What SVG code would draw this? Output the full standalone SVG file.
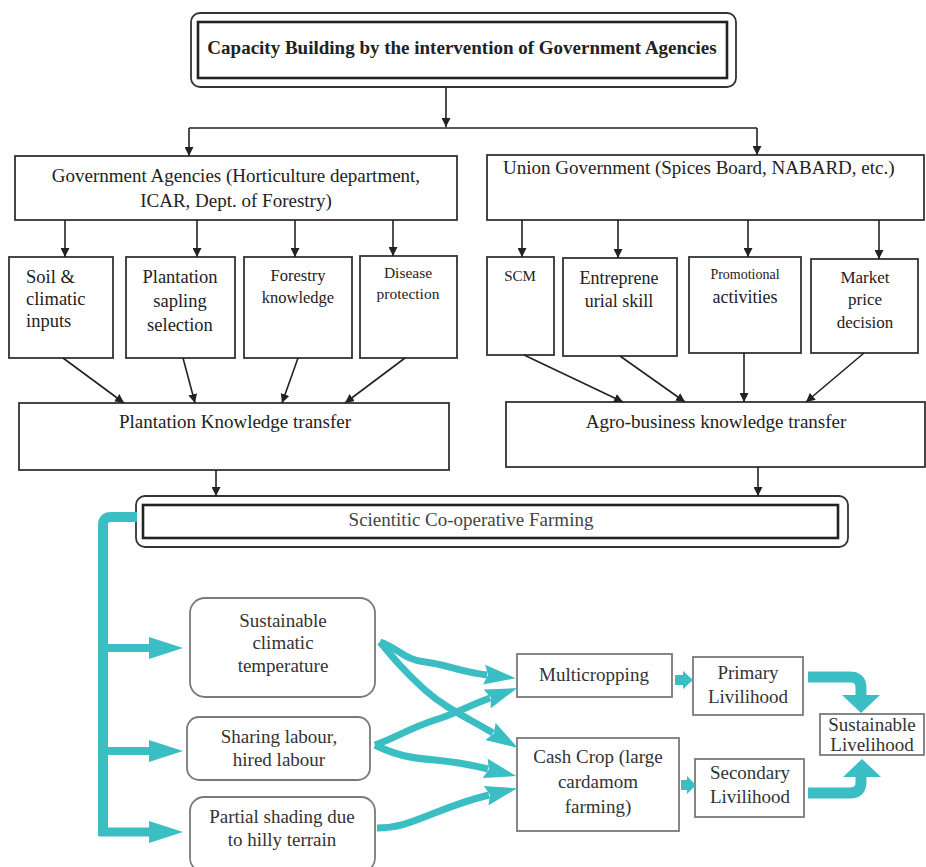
<svg xmlns="http://www.w3.org/2000/svg" width="926" height="867" viewBox="0 0 926 867">
<style>
  text{font-family:"Liberation Serif","Times New Roman",serif;fill:#222}
  .c{text-anchor:middle}
  .box{fill:#fff;stroke:#333;stroke-width:1.8}
  .gbox{fill:#fff;stroke:#7a7a7a;stroke-width:1.8}
  .ln{fill:none;stroke:#222;stroke-width:1.6}
  .teal{fill:none;stroke:#3bbec3;stroke-linecap:butt;stroke-linejoin:round}
  .tf{fill:#3bbec3}
  .bt{fill:#333;font-size:19px}
</style>
<defs>
  <marker id="ah" viewBox="0 0 10 10" refX="10" refY="5" markerWidth="9" markerHeight="9" markerUnits="userSpaceOnUse" orient="auto">
    <path d="M0,0 L10,5 L0,10 z" fill="#222"/>
  </marker>
  <marker id="th" viewBox="0 0 32 20" refX="3" refY="10" markerWidth="32" markerHeight="20" markerUnits="userSpaceOnUse" orient="auto">
    <path d="M0,0 L32,10 L0,20 L4,10 z" fill="#3bbec3"/>
  </marker>
  <marker id="tb" viewBox="0 0 34 22" refX="1" refY="11" markerWidth="34" markerHeight="22" markerUnits="userSpaceOnUse" orient="auto">
    <path d="M0,0 L34,11 L0,22 z" fill="#3bbec3"/>
  </marker>
</defs>

<g id="title">
  <rect x="191" y="13" width="545" height="74" rx="9" class="box"/>
  <rect x="198" y="22" width="529" height="56" fill="none" stroke="#222" stroke-width="2.6"/>
  <text x="462" y="54" class="c" font-size="19" font-weight="bold">Capacity Building by the intervention of Government Agencies</text>
</g>

<g id="gov-agencies">
  <rect x="15" y="156" width="442" height="64" class="box"/>
  <text x="236" y="182" class="c" font-size="19">Government Agencies (Horticulture department,</text>
  <text x="236" y="207" class="c" font-size="19">ICAR, Dept. of Forestry)</text>
</g>
<g id="union-gov">
  <rect x="487" y="155" width="437" height="65" class="box"/>
  <text x="503" y="174" font-size="19">Union Government (Spices Board, NABARD, etc.)</text>
</g>

<g id="soil">
  <rect x="9" y="257" width="104" height="101" class="box"/>
  <text x="26" y="283" font-size="18.5">Soil &amp;</text>
  <text x="26" y="305" font-size="18.5">climatic</text>
  <text x="26" y="327" font-size="18.5">inputs</text>
</g>
<g id="plantation">
  <rect x="126" y="257" width="109" height="101" class="box"/>
  <text x="180" y="283" class="c" font-size="18.5">Plantation</text>
  <text x="180" y="307" class="c" font-size="18.5">sapling</text>
  <text x="180" y="331" class="c" font-size="18.5">selection</text>
</g>
<g id="forestry">
  <rect x="244" y="257" width="108" height="101" class="box"/>
  <text x="298" y="281" class="c" font-size="16.5">Forestry</text>
  <text x="298" y="303" class="c" font-size="16.5">knowledge</text>
</g>
<g id="disease">
  <rect x="360" y="256" width="97" height="102" class="box"/>
  <text x="408" y="278" class="c" font-size="15.5">Disease</text>
  <text x="408" y="299" class="c" font-size="15.5">protection</text>
</g>

<g id="scm">
  <rect x="487" y="257" width="67" height="98" class="box"/>
  <text x="520" y="281" class="c" font-size="15">SCM</text>
</g>
<g id="entrepreneurial">
  <rect x="563" y="258" width="114" height="98" class="box"/>
  <text x="619" y="284" class="c" font-size="18">Entreprene</text>
  <text x="619" y="307" class="c" font-size="18">urial skill</text>
</g>
<g id="promotional">
  <rect x="689" y="257" width="112" height="96" class="box"/>
  <text x="745" y="279" class="c" font-size="14">Promotional</text>
  <text x="745" y="303" class="c" font-size="18">activities</text>
</g>
<g id="market">
  <rect x="811" y="259" width="107" height="94" class="box"/>
  <text x="865" y="283" class="c" font-size="17">Market</text>
  <text x="865" y="305" class="c" font-size="17">price</text>
  <text x="865" y="328" class="c" font-size="17">decision</text>
</g>

<g id="plantation-kt">
  <rect x="19" y="403" width="430" height="67" class="box"/>
  <text x="235" y="428" class="c" font-size="19">Plantation Knowledge transfer</text>
</g>
<g id="agro-kt">
  <rect x="506" y="402" width="419" height="65" class="box"/>
  <text x="716" y="428" class="c" font-size="19">Agro-business knowledge transfer</text>
</g>

<g id="scientific">
  <rect x="136" y="496" width="712" height="51" rx="9" class="box"/>
  <rect x="143" y="505" width="695" height="33" fill="none" stroke="#222" stroke-width="2.6"/>
  <text x="471" y="526" class="c" font-size="19" style="fill:#444">Scientitic Co-operative Farming</text>
</g>

<g id="climatic-temp">
  <rect x="190" y="598" width="185" height="99" rx="15" class="gbox"/>
  <text x="283" y="627" class="c bt">Sustainable</text>
  <text x="283" y="649" class="c bt">climatic</text>
  <text x="283" y="672" class="c bt">temperature</text>
</g>
<g id="sharing-labour">
  <rect x="187" y="717" width="183" height="63" rx="12" class="gbox"/>
  <text x="279" y="743" class="c bt">Sharing labour,</text>
  <text x="279" y="766" class="c bt">hired labour</text>
</g>
<g id="partial-shading">
  <rect x="190" y="797" width="185" height="75" rx="14" class="gbox"/>
  <text x="282" y="823" class="c bt">Partial shading due</text>
  <text x="282" y="846" class="c bt">to hilly terrain</text>
</g>

<g id="multicropping">
  <rect x="517" y="654" width="155" height="43" class="gbox"/>
  <text x="594" y="681" class="c bt">Multicropping</text>
</g>
<g id="cash-crop">
  <rect x="517" y="738" width="162" height="93" class="gbox"/>
  <text x="598" y="763" class="c bt">Cash Crop (large</text>
  <text x="598" y="788" class="c bt">cardamom</text>
  <text x="598" y="813" class="c bt">farming)</text>
</g>
<g id="primary">
  <rect x="693" y="657" width="110" height="58" class="gbox"/>
  <text x="748" y="679" class="c bt">Primary</text>
  <text x="748" y="703" class="c bt">Livilihood</text>
</g>
<g id="secondary">
  <rect x="695" y="759" width="109" height="58" class="gbox"/>
  <text x="750" y="779" class="c bt">Secondary</text>
  <text x="750" y="803" class="c bt">Livilihood</text>
</g>
<g id="sustainable-livelihood">
  <rect x="820" y="714" width="104" height="41" class="gbox"/>
  <text x="872" y="731" class="c bt">Sustainable</text>
  <text x="872" y="751" class="c bt">Livelihood</text>
</g>

<g id="connectors">
  <path d="M446,87 V127" class="ln" marker-end="url(#ah)"/>
  <path d="M189,128 H757" class="ln" stroke-width="2"/>
  <path d="M189,128 V156" class="ln" marker-end="url(#ah)"/>
  <path d="M757,128 V155" class="ln" marker-end="url(#ah)"/>
  <path d="M65,220 V257" class="ln" marker-end="url(#ah)"/>
  <path d="M197,220 V257" class="ln" marker-end="url(#ah)"/>
  <path d="M295,220 V257" class="ln" marker-end="url(#ah)"/>
  <path d="M393,220 V256" class="ln" marker-end="url(#ah)"/>
  <path d="M522,220 V257" class="ln" marker-end="url(#ah)"/>
  <path d="M618,220 V258" class="ln" marker-end="url(#ah)"/>
  <path d="M748,220 V257" class="ln" marker-end="url(#ah)"/>
  <path d="M879,220 V259" class="ln" marker-end="url(#ah)"/>
  <path d="M63,358 L124,403" class="ln" marker-end="url(#ah)"/>
  <path d="M183,358 L195,403" class="ln" marker-end="url(#ah)"/>
  <path d="M298,358 L282,403" class="ln" marker-end="url(#ah)"/>
  <path d="M405,358 L345,403" class="ln" marker-end="url(#ah)"/>
  <path d="M524,355 L623,402" class="ln" marker-end="url(#ah)"/>
  <path d="M620,356 L685,402" class="ln" marker-end="url(#ah)"/>
  <path d="M744,353 V402" class="ln" marker-end="url(#ah)"/>
  <path d="M864,353 L806,402" class="ln" marker-end="url(#ah)"/>
  <path d="M216,470 V496" class="ln" marker-end="url(#ah)"/>
  <path d="M758,467 V496" class="ln" marker-end="url(#ah)"/>

  <path d="M137,517 H111 Q103,517 103,525 V836" class="teal" stroke-width="10"/>
  <path d="M103,648 H150" class="teal" stroke-width="8" marker-end="url(#tb)"/>
  <path d="M103,751 H150" class="teal" stroke-width="8" marker-end="url(#tb)"/>
  <path d="M99,832 H150" class="teal" stroke-width="9" marker-end="url(#tb)"/>

  <path d="M380,642 C398,648 405,660 425,662 C445,664 460,672 487,675" class="teal" stroke-width="7" marker-end="url(#th)"/>
  <path d="M380,642 C395,660 405,672 425,690 C445,708 468,718 493,733" class="teal" stroke-width="7" marker-end="url(#th)"/>
  <path d="M375,745 C395,738 410,728 435,720 C455,714 468,706 490,698" class="teal" stroke-width="7" marker-end="url(#th)"/>
  <path d="M375,745 C395,755 410,758 435,760 C455,762 468,764 488,769" class="teal" stroke-width="7" marker-end="url(#th)"/>
  <path d="M377,828 C398,828 412,822 432,814 C452,806 468,800 489,795" class="teal" stroke-width="7" marker-end="url(#th)"/>

  <path d="M675,675 H683 V671 L693,680 L683,689 V685 H675 z" class="tf"/>
  <path d="M681,780 H687 V776 L696,785 L687,794 V790 H681 z" class="tf"/>

  <path d="M808,677 H850 Q861,677 861,688 V697" class="teal" stroke-width="11"/>
  <path d="M842,695 H880 L861,713 z" class="tf"/>
  <path d="M808,793 H850 Q861,793 861,782 V775" class="teal" stroke-width="11"/>
  <path d="M843,777 H881 L862,759 z" class="tf"/>
</g>
</svg>
